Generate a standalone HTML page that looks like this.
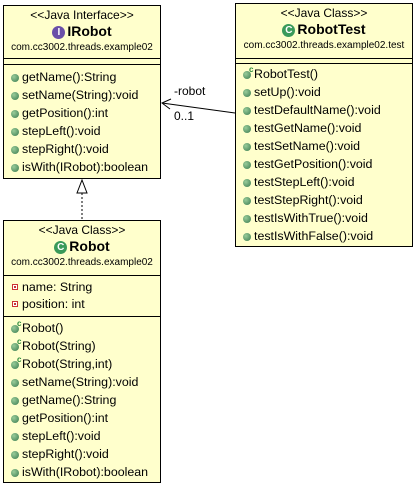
<!DOCTYPE html>
<html><head><meta charset="utf-8"><style>
body{margin:0;width:416px;height:487px;background:#fff;position:relative;font-family:"Liberation Sans",sans-serif;overflow:hidden}
.box{position:absolute;background:#ffffcc;border:1px solid #000;box-sizing:border-box}
.t{position:absolute;white-space:nowrap;color:#000}
.hl{position:absolute;left:0;right:0;border-top:1px solid #000}
.c{text-align:center;left:0;right:0}
.dot{position:absolute;width:8px;height:8px;border-radius:50%;background:radial-gradient(circle at 35% 35%,#9c9,#397a4f)}
.sq{position:absolute;width:6px;height:6px;background:#fff;border:1px solid #c33;box-sizing:border-box}
.sq:after{content:"";position:absolute;left:1px;top:1px;width:2px;height:2px;background:#c33}
.cc{position:absolute;font-size:8px;font-weight:bold;color:#2a8a3a}
.ic{display:inline-block;width:13px;height:13px;border-radius:50%;color:#fff;font-size:10px;line-height:13px;text-align:center;vertical-align:1px;margin-right:2px;font-weight:bold}
</style></head><body>
<svg width="416" height="487" style="position:absolute;left:0;top:0">
<line x1="235" y1="113" x2="162" y2="103" stroke="#000"/>
<polyline points="171,99 162,103 170,109" fill="none" stroke="#000"/>
<line x1="82" y1="193" x2="82" y2="221" stroke="#000" stroke-dasharray="2,2"/>
<polygon points="82,180 77,193 87,193" fill="#fff" stroke="#000"/>
</svg>
<div class="t" style="left:174px;top:84px;font-size:12px">-robot</div>
<div class="t" style="left:174px;top:109px;font-size:12px">0..1</div>

<div class="box" style="left:3px;top:5px;width:158px;height:174px">
<div class="t c" style="top:2px;font-size:12px">&lt;&lt;Java Interface&gt;&gt;</div>
<div class="t c" style="top:17px;font-size:14px;font-weight:bold"><span class="ic" style="background:#6a4fa8">I</span>IRobot</div>
<div class="t c" style="top:36px;font-size:10px">com.cc3002.threads.example02</div>
<div class="hl" style="top:52px"></div><div class="hl" style="top:58px"></div>
</div>
<div class="box" style="left:235px;top:3px;width:178px;height:244px">
<div class="t c" style="top:2px;font-size:12px">&lt;&lt;Java Class&gt;&gt;</div>
<div class="t c" style="top:17px;font-size:14px;font-weight:bold"><span class="ic" style="background:#3a9a5a">C</span>RobotTest</div>
<div class="t c" style="top:36px;font-size:10px">com.cc3002.threads.example02.test</div>
<div class="hl" style="top:54px"></div><div class="hl" style="top:59px"></div>
</div>
<div class="box" style="left:3px;top:220px;width:158px;height:263px">
<div class="t c" style="top:2px;font-size:12px">&lt;&lt;Java Class&gt;&gt;</div>
<div class="t c" style="top:17px;font-size:14px;font-weight:bold"><span class="ic" style="background:#3a9a5a">C</span>Robot</div>
<div class="t c" style="top:36px;font-size:10px">com.cc3002.threads.example02</div>
<div class="hl" style="top:54px"></div><div class="hl" style="top:95px"></div>
</div>
<div id="rows"></div>
<script>
var h="";
function row(x,y,txt,kind){
 if(kind=="s") h+='<div class="sq" style="left:'+(x+1)+'px;top:'+(y-3)+'px"></div>';
 else {h+='<div class="dot" style="left:'+x+'px;top:'+(y-3)+'px"></div>';
  if(kind=="c") h+='<div class="cc" style="left:'+(x+6)+'px;top:'+(y-9)+'px">c</div>';}
 h+='<div class="t" style="left:'+(x+11)+'px;top:'+(y-7)+'px;font-size:12.4px">'+txt+'</div>';
}
var a=["getName():String","setName(String):void","getPosition():int","stepLeft():void","stepRight():void","isWith(IRobot):boolean"];
a.forEach(function(t,i){row(11,77+i*18,t)});
var b=[["RobotTest()","c"],["setUp():void"],["testDefaultName():void"],["testGetName():void"],["testSetName():void"],["testGetPosition():void"],["testStepLeft():void"],["testStepRight():void"],["testIsWithTrue():void"],["testIsWithFalse():void"]];
b.forEach(function(t,i){row(243,74+i*18,t[0],t[1])});
row(11,287,"name: String","s");row(11,304,"position: int","s");
var c=[["Robot()","c"],["Robot(String)","c"],["Robot(String,int)","c"],["setName(String):void"],["getName():String"],["getPosition():int"],["stepLeft():void"],["stepRight():void"],["isWith(IRobot):boolean"]];
c.forEach(function(t,i){row(11,328+i*18,t[0],t[1])});
document.getElementById("rows").innerHTML=h;
</script>
</body></html>
